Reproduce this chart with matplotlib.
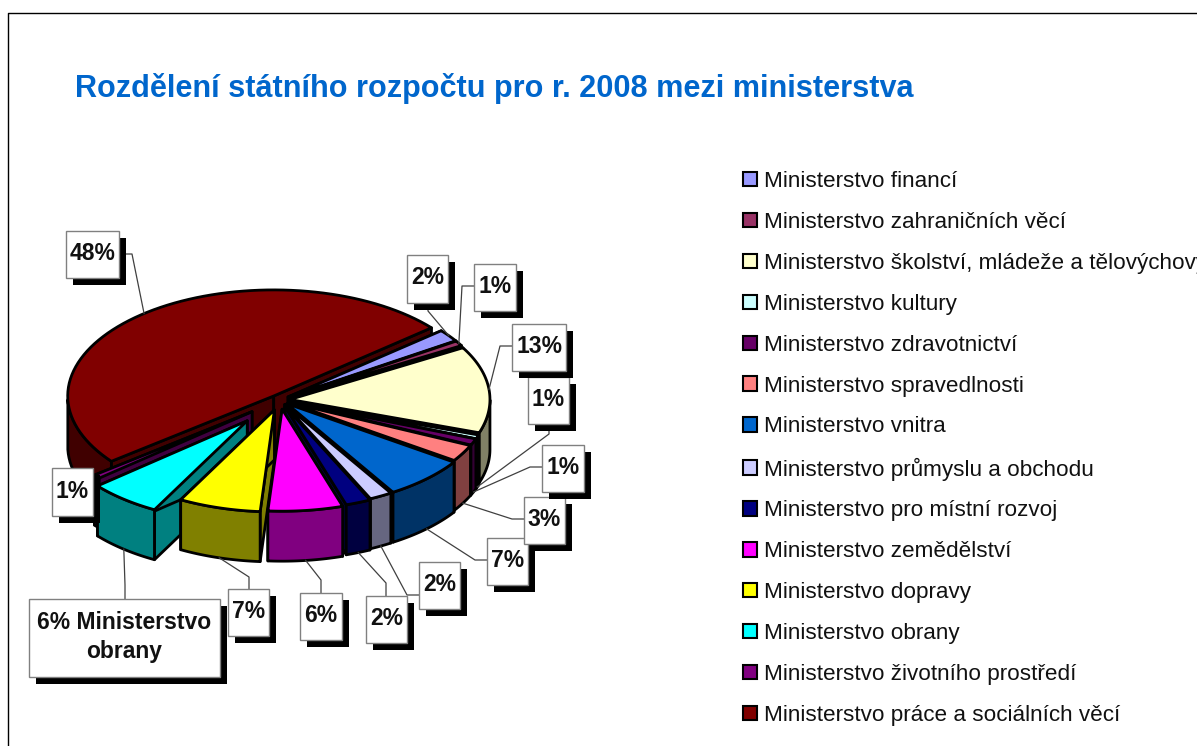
import numpy as np
import matplotlib
matplotlib.use("Agg")
import matplotlib.pyplot as plt
from matplotlib.colors import to_rgb
from matplotlib.patches import Patch, Rectangle

ministerstva = ["Ministerstvo financí", "Ministerstvo zahraničních věcí",
                "Ministerstvo školství, mládeže a tělovýchovy", "Ministerstvo kultury",
                "Ministerstvo zdravotnictví", "Ministerstvo spravedlnosti",
                "Ministerstvo vnitra", "Ministerstvo průmyslu a obchodu",
                "Ministerstvo pro místní rozvoj", "Ministerstvo zemědělství",
                "Ministerstvo dopravy", "Ministerstvo obrany",
                "Ministerstvo životního prostředí", "Ministerstvo práce a sociálních věcí"]
podily = [1.9, 0.8, 13.4, 0.6, 1.0, 2.6, 6.6, 1.8, 2.0, 6.0, 6.6, 5.9, 0.6, 48.7]
popisky = ["2%", "1%", "13%", "1%", "1%", "3%", "7%", "2%", "2%", "6%", "7%",
           "6% Ministerstvo\nobrany", "1%", "48%"]
barvy = ["#9999FF", "#993366", "#FFFFCC", "#CCFFFF", "#660066", "#FF8080", "#0066CC",
         "#CCCCFF", "#000080", "#FF00FF", "#FFFF00", "#00FFFF", "#800080", "#800000"]

# vysunuti vysece a meritko (perspektiva)
vysunuti = [0.05, 0.05, 0.05, 0.05, 0.05, 0.05, 0.05, 0.05, 0.07, 0.09, 0.10, 0.26, 0.18, 0.05]
meritko = [1.0, 1.0, 1.0, 1.0, 1.0, 1.0, 1.01, 1.01, 1.0, 0.99, 0.99, 0.98, 1.0, 1.03]

# rozmisteni popisku: x0, y0, x1, y1
ramecky = [(407, 255, 448, 303), (474, 264, 516, 311), (512, 324, 566, 371),
           (528, 377, 569, 424), (542, 445, 584, 492), (524, 497, 565, 544),
           (487, 538, 528, 585), (419, 562, 460, 609), (366, 596, 407, 643),
           (300, 593, 342, 640), (228, 589, 269, 636), (29, 599, 220, 677),
           (52, 468, 93, 516), (66, 231, 119, 278)]
# zacatek a koleno odkazu, posledni cislo: 1 = spodni hrana steny
odkazy = [(428, 303, 428, 311, 0), (474, 286, 462, 286, 0), (512, 346, 500, 346, 0),
          (549, 424, 549, 434, 1), (542, 467, 530, 467, 1), (524, 519, 512, 519, 1),
          (487, 560, 475, 560, 1), (419, 595, 407, 595, 1), (386, 596, 386, 583, 1),
          (321, 593, 321, 580, 1), (249, 589, 249, 577, 1), (125, 599, 125, 585, 1),
          None, (119, 254, 132, 254, 0)]

CX, CY = 280, 400
RX, RY = 200, 103
HLOUBKA = 50
START = 40

plt.rcParams["font.family"] = ["Liberation Sans", "DejaVu Sans"]

fig = plt.figure(figsize=(11.97, 7.46), dpi=100)
ax = fig.add_axes([0, 0, 1, 1])
ax.set_xlim(0, 1197)
ax.set_ylim(746, 0)
ax.axis("off")

# ramecek snimku
ax.plot([1197, 8, 8], [13, 13, 746], color="black", lw=1)

ax.text(75, 97, "Rozdělení státního rozpočtu pro r. 2008 mezi ministerstva",
        color="#0066CC", fontsize=22.1, fontweight="bold", va="baseline")

uhly = np.array(podily) / sum(podily) * 360
konce = START - np.cumsum(uhly)
zacatky = konce + uhly
stredy = (zacatky + konce) / 2


def bod(i, uhel, r=1.0, z=0):
    mid = np.radians(stredy[i])
    u = np.radians(uhel)
    x = CX + vysunuti[i] * RX * np.cos(mid) + r * meritko[i] * RX * np.cos(u)
    y = CY - vysunuti[i] * RY * np.sin(mid) - r * meritko[i] * RY * np.sin(u) + z
    return x, y


def ztmav(barva):
    return tuple(c / 2 for c in to_rgb(barva))


def steny(i):
    tmava = ztmav(barvy[i])
    for u in (zacatky[i], konce[i]):
        x0, y0 = bod(i, u, 0)
        x1, y1 = bod(i, u)
        ax.fill([x0, x1, x1, x0], [y0, y1, y1 + HLOUBKA, y0 + HLOUBKA],
                facecolor=tmava, edgecolor="black", lw=2, joinstyle="round")
    # jen predni cast oblouku
    u = np.linspace(konce[i], zacatky[i], 80)
    u = u[np.sin(np.radians(u)) < 0]
    if len(u) > 1:
        x, y = bod(i, u)
        ax.fill(np.r_[x, x[::-1]], np.r_[y, y[::-1] + HLOUBKA],
                facecolor=tmava, edgecolor="black", lw=2, joinstyle="round")


def vrch(i):
    u = np.linspace(konce[i], zacatky[i], 80)
    x, y = bod(i, u)
    x0, y0 = bod(i, 0, 0)
    ax.fill(np.r_[x0, x], np.r_[y0, y], facecolor=barvy[i], edgecolor="black",
            lw=2, joinstyle="round")


# od zadnich vyseci k prednim
for i in sorted(range(len(podily)), key=lambda k: -np.sin(np.radians(stredy[k]))):
    steny(i)
    vrch(i)

for i in reversed(range(len(podily))):
    x0, y0, x1, y1 = ramecky[i]
    if odkazy[i] is not None:
        ax_, ay_, kx, ky, spodek = odkazy[i]
        ex, ey = bod(i, stredy[i], 1.0, HLOUBKA * spodek)
        ax.plot([ax_, kx, ex], [ay_, ky, ey], color="#404040", lw=0.9, zorder=5)
    ax.add_patch(Rectangle((x0 + 7, y0 + 7), x1 - x0, y1 - y0, facecolor="black",
                           edgecolor="none", zorder=6 + (len(podily) - i) * 0.1))
    ax.add_patch(Rectangle((x0, y0), x1 - x0, y1 - y0, facecolor="white", edgecolor="#808080",
                           lw=1, zorder=6.05 + (len(podily) - i) * 0.1))
    ax.text((x0 + x1) / 2, (y0 + y1) / 2 - 1, popisky[i], ha="center", va="center",
            fontsize=16.5, fontweight="bold", color="#111111", linespacing=1.35,
            zorder=7 + (len(podily) - i) * 0.1)

znacky = [Patch(facecolor=b, edgecolor="black", lw=1.5) for b in barvy]
ax.legend(znacky, ministerstva, loc="upper left", bbox_to_anchor=(743, 171),
          bbox_transform=ax.transData, frameon=False, fontsize=16.2,
          labelspacing=0.885, handlelength=0.6, handleheight=0.6,
          handletextpad=0.32, borderpad=0, borderaxespad=0, labelcolor="#111111")

fig.savefig("out.png", dpi=100)
